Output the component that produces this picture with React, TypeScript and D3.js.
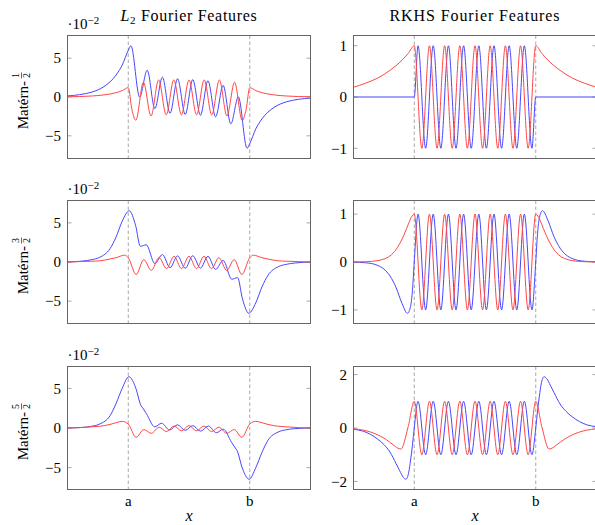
import React from "react";
import * as d3 from "d3";

type Pt = [number, number];

// ---------- data (x in units where a = 0, b = 1) ----------
const xDomain: [number, number] = [-0.5, 1.5];
const xTickValues = [0, 1];
const xTickLabels = ["a", "b"];
const columnTitles = ["Fourier Features", "RKHS Fourier Features"];
const rowFractions = [["1", "2"], ["3", "2"], ["5", "2"]];
const leftYTicks = [-5, 0, 5];
const rightYTicks = [[-1, 0, 1], [-1, 0, 1], [-2, 0, 2]];

// L2 features, values in units of 10^-2
const l2HalfBlue: Pt[] = [
  [-0.5, 0.14], [-0.4, 0.3], [-0.3, 0.63], [-0.2, 1.34], [-0.1, 2.83], [-0.05, 4.1], [0, 6.0],
  [0.022, 6.6], [0.094, 0.0], [0.156, 3.45], [0.219, -1.5], [0.281, 2.55], [0.344, -2.1],
  [0.406, 2.35], [0.469, -2.25], [0.531, 2.25], [0.594, -2.35], [0.656, 2.1], [0.719, -2.55],
  [0.781, 1.5], [0.844, -3.45], [0.906, 0.0], [0.978, -6.6], [1.0, -6.0], [1.05, -4.1],
  [1.1, -2.83], [1.2, -1.34], [1.3, -0.63], [1.4, -0.3], [1.5, -0.14],
];
const l2HalfRed: Pt[] = [
  [-0.5, 0.03], [-0.4, 0.06], [-0.3, 0.13], [-0.2, 0.27], [-0.1, 0.56], [-0.05, 0.82], [0, 1.2],
  [0.03, -1.6], [0.0625, -3.0], [0.125, 1.9], [0.1875, -2.45], [0.25, 2.2], [0.3125, -2.3],
  [0.375, 2.2], [0.4375, -2.3], [0.5, 2.2], [0.5625, -2.3], [0.625, 2.2], [0.6875, -2.3],
  [0.75, 2.2], [0.8125, -2.45], [0.875, 1.9], [0.9375, -3.0], [0.97, -1.6], [1, 1.2],
  [1.05, 0.82], [1.1, 0.56], [1.2, 0.27], [1.3, 0.13], [1.4, 0.06], [1.5, 0.03],
];
const l2ThreeHalvesBlue: Pt[] = [
  [-0.5, 0.0], [-0.43, 0.05], [-0.37, 0.13], [-0.3, 0.3], [-0.235, 0.6], [-0.15, 1.7],
  [-0.1, 3.2], [-0.05, 5.2], [0.008, 6.55], [0.06, 4.7], [0.1, 2.0], [0.148, 2.2],
  [0.219, -0.2], [0.281, 0.95], [0.344, -0.72], [0.406, 0.78], [0.469, -0.8], [0.531, 0.8],
  [0.594, -0.78], [0.656, 0.72], [0.719, -0.95], [0.781, 0.2], [0.852, -2.2], [0.9, -2.0],
  [0.94, -4.7], [0.992, -6.55], [1.05, -5.2], [1.1, -3.2], [1.15, -1.7], [1.235, -0.6],
  [1.3, -0.3], [1.37, -0.13], [1.43, -0.05], [1.5, 0.0],
];
const l2ThreeHalvesRed: Pt[] = [
  [-0.5, 0.0], [-0.4, 0.05], [-0.3, 0.1], [-0.235, 0.15], [-0.15, 0.38], [-0.1, 0.55],
  [-0.03, 0.87], [0.0, 0.55], [0.065, -1.6], [0.128, 0.3], [0.19, -1.07], [0.254, 0.55],
  [0.315, -0.85], [0.377, 0.73], [0.438, -0.85], [0.5, 0.73], [0.562, -0.85], [0.623, 0.73],
  [0.685, -0.85], [0.746, 0.55], [0.81, -1.07], [0.872, 0.3], [0.935, -1.6], [1.0, 0.55],
  [1.03, 0.87], [1.1, 0.55], [1.15, 0.38], [1.235, 0.15], [1.3, 0.1], [1.4, 0.05], [1.5, 0.0],
];
const l2FiveHalvesBlue: Pt[] = [
  [-0.5, 0.0], [-0.43, 0.03], [-0.37, 0.08], [-0.3, 0.22], [-0.235, 0.5], [-0.15, 1.55],
  [-0.1, 3.1], [-0.05, 5.0], [0.005, 6.47], [0.065, 4.9], [0.1, 3.0], [0.125, 2.4],
  [0.15, 1.8], [0.218, 0.15], [0.275, 0.6], [0.34, -0.25], [0.405, 0.4], [0.469, -0.3],
  [0.531, 0.3], [0.595, -0.4], [0.66, 0.25], [0.725, -0.6], [0.782, -0.15], [0.85, -1.8],
  [0.875, -2.4], [0.9, -3.0], [0.935, -4.9], [0.995, -6.47], [1.05, -5.0], [1.1, -3.1],
  [1.15, -1.55], [1.235, -0.5], [1.3, -0.22], [1.37, -0.08], [1.43, -0.03], [1.5, 0.0],
];
const l2FiveHalvesRed: Pt[] = [
  [-0.5, 0.0], [-0.4, 0.05], [-0.3, 0.15], [-0.235, 0.22], [-0.15, 0.45], [-0.1, 0.67],
  [-0.05, 0.84], [0.0, 0.5], [0.065, -1.18], [0.128, -0.2], [0.19, -0.67], [0.254, 0.1],
  [0.315, -0.45], [0.377, 0.25], [0.438, -0.35], [0.5, 0.3], [0.562, -0.35], [0.623, 0.25],
  [0.685, -0.45], [0.746, 0.1], [0.81, -0.67], [0.872, -0.2], [0.935, -1.18], [1.0, 0.5],
  [1.05, 0.84], [1.1, 0.67], [1.15, 0.45], [1.235, 0.22], [1.3, 0.15], [1.4, 0.05], [1.5, 0.0],
];

// RKHS features: inside [a, b] (extrema of the oscillation)
const rkhsCosInside: Pt[] = [
  [0, 1], [0.0625, -1], [0.125, 1], [0.1875, -1], [0.25, 1], [0.3125, -1], [0.375, 1],
  [0.4375, -1], [0.5, 1], [0.5625, -1], [0.625, 1], [0.6875, -1], [0.75, 1], [0.8125, -1],
  [0.875, 1], [0.9375, -1], [1, 1],
];
const rkhsSinInside: Pt[] = [
  [0, 0], [0.03125, 1], [0.09375, -1], [0.15625, 1], [0.21875, -1], [0.28125, 1],
  [0.34375, -1], [0.40625, 1], [0.46875, -1], [0.53125, 1], [0.59375, -1], [0.65625, 1],
  [0.71875, -1], [0.78125, 1], [0.84375, -1], [0.90625, 1], [0.96875, -1], [1, 0],
];
// RKHS tails outside [a, b]
const rkhsHalfRedLeft: Pt[] = [[-0.5, 0.19], [-0.4, 0.27], [-0.3, 0.37], [-0.2, 0.52], [-0.1, 0.72], [-0.05, 0.85]];
const rkhsHalfRedRight: Pt[] = [[1.05, 0.85], [1.1, 0.72], [1.2, 0.52], [1.3, 0.37], [1.4, 0.27], [1.5, 0.19]];
const rkhsHalfBlueLeft: Pt[] = [[-0.5, 0]];
const rkhsHalfBlueRight: Pt[] = [[1.5, 0]];

const rkhsThreeRedLeft: Pt[] = [
  [-0.5, 0.001], [-0.4, 0.006], [-0.3, 0.029], [-0.25, 0.061], [-0.2, 0.126], [-0.15, 0.26],
  [-0.1, 0.48], [-0.05, 0.78], [-0.025, 0.93],
];
const rkhsThreeRedRight: Pt[] = [
  [1.025, 0.93], [1.05, 0.78], [1.1, 0.48], [1.15, 0.26], [1.2, 0.126], [1.25, 0.061],
  [1.3, 0.029], [1.4, 0.006], [1.5, 0.001],
];
const rkhsThreeBlueLeft: Pt[] = [
  [-0.5, -0.003], [-0.4, -0.016], [-0.3, -0.072], [-0.25, -0.147], [-0.2, -0.29], [-0.15, -0.53],
  [-0.1, -0.87], [-0.056, -1.07], [-0.03, -0.925], [-0.015, -0.6],
];
const rkhsThreeBlueRight: Pt[] = [
  [1.015, 0.6], [1.03, 0.925], [1.056, 1.07], [1.1, 0.87], [1.15, 0.53], [1.2, 0.29],
  [1.25, 0.147], [1.3, 0.072], [1.4, 0.016], [1.5, 0.003],
];

const rkhsFiveRedLeft: Pt[] = [
  [-0.5, -0.03], [-0.42, -0.08], [-0.36, -0.15], [-0.3, -0.26], [-0.25, -0.38], [-0.205, -0.52],
  [-0.17, -0.64], [-0.14, -0.74], [-0.11, -0.79], [-0.05, 0.05],
];
const rkhsFiveRedRight: Pt[] = [
  [1.05, 0.05], [1.11, -0.79], [1.14, -0.74], [1.17, -0.64], [1.205, -0.52], [1.25, -0.38],
  [1.3, -0.26], [1.36, -0.15], [1.42, -0.08], [1.5, -0.03],
];
const rkhsFiveBlueLeft: Pt[] = [
  [-0.5, -0.05], [-0.42, -0.12], [-0.36, -0.24], [-0.3, -0.42], [-0.25, -0.62], [-0.2, -0.9],
  [-0.15, -1.33], [-0.12, -1.6], [-0.09, -1.85], [-0.068, -1.92], [-0.045, -1.65],
  [-0.03, -1.2], [-0.015, -0.65],
];
const rkhsFiveBlueRight: Pt[] = [
  [1.015, 0.65], [1.03, 1.2], [1.045, 1.65], [1.068, 1.92], [1.09, 1.85], [1.12, 1.6],
  [1.15, 1.33], [1.2, 0.9], [1.25, 0.62], [1.3, 0.42], [1.36, 0.24], [1.42, 0.12], [1.5, 0.05],
];

const rkhsHalfRed = [...rkhsHalfRedLeft, ...rkhsCosInside, ...rkhsHalfRedRight];
const rkhsHalfBlue = [...rkhsHalfBlueLeft, ...rkhsSinInside, ...rkhsHalfBlueRight];
const rkhsThreeRed = [...rkhsThreeRedLeft, ...rkhsCosInside, ...rkhsThreeRedRight];
const rkhsThreeBlue = [...rkhsThreeBlueLeft, ...rkhsSinInside, ...rkhsThreeBlueRight];
const rkhsFiveRed = [...rkhsFiveRedLeft, ...rkhsCosInside, ...rkhsFiveRedRight];
const rkhsFiveBlue = [...rkhsFiveBlueLeft, ...rkhsSinInside, ...rkhsFiveBlueRight];

// ---------- layout ----------
const W = 243;
const H = 123;
const colLeft = [67.5, 353.5];
const rowTop = [35.5, 200.5, 366.5];
const BLUE = "#4646ff";
const RED = "#ff4646";
const FRAME = "#666666";
const TICK = "#a8a8a8";
const FONT = "Liberation Serif, DejaVu Serif, Times New Roman, serif";

interface PanelProps {
  id: string;
  x0: number;
  y0: number;
  blue: Pt[];
  red: Pt[];
  yTicks: number[];
  leftCol: boolean;
  bottom: boolean;
}

function Panel({ id, x0, y0, blue, red, yTicks, leftCol, bottom }: PanelProps) {
  const xs = d3.scaleLinear().domain(xDomain).range([x0, x0 + W]);
  const vals = [...blue, ...red].map((p) => p[1]);
  const [lo, hi] = d3.extent(vals) as [number, number];
  const pad = (hi - lo) * 0.1;
  const ys = d3.scaleLinear().domain([lo - pad, hi + pad]).range([y0 + H, y0]);
  const line = d3
    .line<Pt>()
    .x((d) => xs(d[0]))
    .y((d) => ys(d[1]))
    .curve(d3.curveMonotoneX);
  const fmt = (t: number) => (t < 0 ? "\u2212" + Math.abs(t) : String(t));
  return (
    <g>
      <defs>
        <clipPath id={id}>
          <rect x={x0} y={y0} width={W} height={H} />
        </clipPath>
      </defs>
      {xTickValues.map((t, i) => (
        <line key={"d" + i} x1={xs(t)} x2={xs(t)} y1={y0} y2={y0 + H} stroke={TICK} strokeWidth={1} strokeDasharray="3.5,2.5" />
      ))}
      {yTicks.map((t) => (
        <g key={"yt" + t}>
          <line x1={x0} x2={x0 + 4} y1={ys(t)} y2={ys(t)} stroke={TICK} strokeWidth={1} />
          <line x1={x0 + W - 4} x2={x0 + W} y1={ys(t)} y2={ys(t)} stroke={TICK} strokeWidth={1} />
          <text x={x0 - 6.5} y={ys(t)} dy="0.35em" textAnchor="end" fontSize={15} fill="#000">
            {fmt(t)}
          </text>
        </g>
      ))}
      <g clipPath={`url(#${id})`}>
        <path d={line(blue) || ""} fill="none" stroke={BLUE} strokeWidth={1} />
        <path d={line(red) || ""} fill="none" stroke={RED} strokeWidth={1} />
      </g>
      <rect x={x0} y={y0} width={W} height={H} fill="none" stroke={FRAME} strokeWidth={1} />
      {leftCol && (
        <text x={x0} y={y0 - 6.5} fontSize={15} fill="#000">
          ·10
          <tspan dy={-5.5} fontSize={11}>
            {"\u22122"}
          </tspan>
        </text>
      )}
      {bottom &&
        xTickValues.map((t, i) => (
          <text key={"xl" + i} x={xs(t)} y={y0 + H + 16} textAnchor="middle" fontSize={15} fill="#000">
            {xTickLabels[i]}
          </text>
        ))}
      {bottom && (
        <text x={x0 + W / 2} y={521} textAnchor="middle" fontSize={16} fontStyle="italic" fill="#000">
          x
        </text>
      )}
    </g>
  );
}

function RowLabel({ cy, frac }: { cy: number; frac: string[] }) {
  return (
    <g transform={`translate(28, ${cy}) rotate(-90)`}>
      <text x={16} y={0} textAnchor="end" fontSize={15} fill="#000">
        Matérn-
      </text>
      <text x={21.5} y={-9} textAnchor="middle" fontSize={10} fill="#000">
        {frac[0]}
      </text>
      <line x1={18.5} x2={24.5} y1={-6.5} y2={-6.5} stroke="#000" strokeWidth={0.6} />
      <text x={21.5} y={1.5} textAnchor="middle" fontSize={10} fill="#000">
        {frac[1]}
      </text>
    </g>
  );
}

export default function App() {
  const rows = [
    { l2: [l2HalfBlue, l2HalfRed], rk: [rkhsHalfBlue, rkhsHalfRed] },
    { l2: [l2ThreeHalvesBlue, l2ThreeHalvesRed], rk: [rkhsThreeBlue, rkhsThreeRed] },
    { l2: [l2FiveHalvesBlue, l2FiveHalvesRed], rk: [rkhsFiveBlue, rkhsFiveRed] },
  ];
  return (
    <svg
      width={595}
      height={525}
      style={{ position: "absolute", left: 0, top: 0, background: "#fff", fontFamily: FONT }}
    >
      <text x={colLeft[0] + W / 2} y={20.5} textAnchor="middle" fontSize={16} letterSpacing={0.7} fill="#000">
        <tspan fontStyle="italic">L</tspan>
        <tspan dy={3.5} fontSize={11}>2</tspan>
        <tspan dy={-3.5}>{" " + columnTitles[0]}</tspan>
      </text>
      <text x={colLeft[1] + W / 2} y={20.5} textAnchor="middle" fontSize={16} letterSpacing={0.9} fill="#000">
        {columnTitles[1]}
      </text>
      {rows.map((r, i) => (
        <g key={i}>
          <Panel id={`cl${i}a`} x0={colLeft[0]} y0={rowTop[i]} blue={r.l2[0]} red={r.l2[1]} yTicks={leftYTicks} leftCol={true} bottom={i === 2} />
          <Panel id={`cl${i}b`} x0={colLeft[1]} y0={rowTop[i]} blue={r.rk[0]} red={r.rk[1]} yTicks={rightYTicks[i]} leftCol={false} bottom={i === 2} />
          <RowLabel cy={rowTop[i] + H / 2} frac={rowFractions[i]} />
        </g>
      ))}
    </svg>
  );
}
